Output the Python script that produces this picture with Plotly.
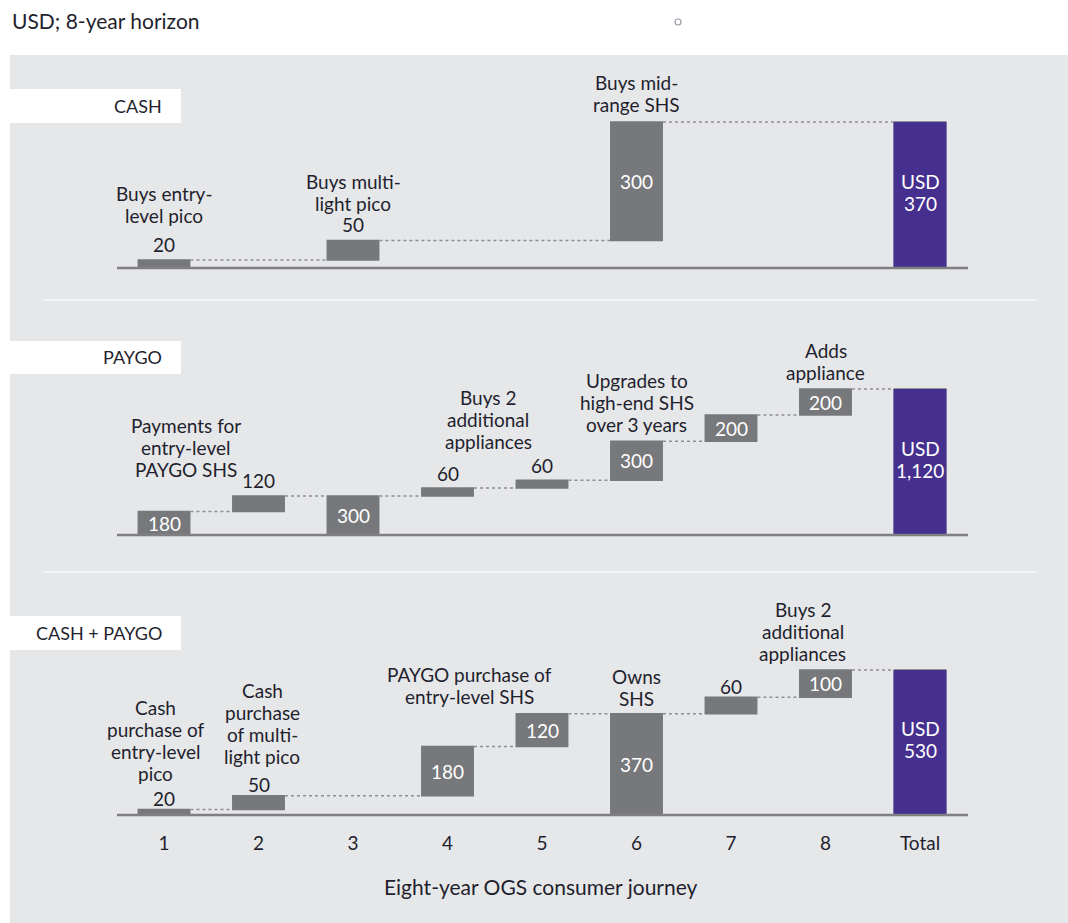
import plotly.graph_objects as go

W, H = 1068, 923
FONT = "Lato"
GRAY = "#77787b"
PURPLE = "#46308f"
TXT = "#1f1f2e"
FS = 19
LH = 22  # line spacing px

# ---------------- data ----------------
positions = [1, 2, 3, 4, 5, 6, 7, 8, 9]
tick_labels = ["1", "2", "3", "4", "5", "6", "7", "8", "Total"]

cash_x = [1, 3, 6, 9]
cash_values = [20, 50, 300, 370]
cash_measure = ["relative", "relative", "relative", "total"]
cash_labels = ["Buys entry-<br>level pico", "Buys multi-<br>light pico", "Buys mid-<br>range SHS", ""]

paygo_x = [1, 2, 3, 4, 5, 6, 7, 8, 9]
paygo_values = [180, 120, 300, 60, 60, 300, 200, 200, 1120]
paygo_measure = ["relative", "relative", "total", "relative", "relative",
                 "relative", "relative", "relative", "total"]
paygo_labels = ["Payments for<br>entry-level<br>PAYGO SHS", "", "",
                "Buys 2<br>additional<br>appliances", "",
                "Upgrades to<br>high-end SHS<br>over 3 years", "",
                "Adds<br>appliance", ""]

mix_x = [1, 2, 4, 5, 6, 7, 8, 9]
mix_values = [20, 50, 180, 120, 370, 60, 100, 530]
mix_measure = ["relative", "relative", "relative", "relative", "total",
               "relative", "relative", "total"]
mix_labels = ["Cash<br>purchase of<br>entry-level<br>pico",
              "Cash<br>purchase<br>of multi-<br>light pico",
              "PAYGO purchase of<br>entry-level SHS", "",
              "Owns<br>SHS", "", "Buys 2<br>additional<br>appliances", ""]

panel_titles = ["CASH", "PAYGO", "CASH + PAYGO"]

# ---------------- layout geometry (pixels) ----------------
px_x1, px_x9 = 164, 920
sx = (px_x9 - px_x1) / 8.0
x_range = [1 - px_x1 / sx, 1 + (W - px_x1) / sx]

# description placement overrides: (x offset in categories, px from bar top to last line centre)
desc_place = {
    (0, 1): (0, 45),
    (0, 3): (0, 37),
    (0, 6): (0, 17),
    (1, 1): (0.23, 42),
    (1, 4): (0.43, 47),
    (1, 6): (0, 17),
    (1, 8): (0, 17),
    (2, 1): (-0.09, 36),
    (2, 2): (0.04, 39),
    (2, 4): (0.23, 50),
    (2, 6): (0, 15),
    (2, 8): (-0.24, 17),
}

panels = [
    dict(T=60, B=295, Y0=268, top=122, x=cash_x, v=cash_values, m=cash_measure, lab=cash_labels,
         box=(89, 123), voff=16),
    dict(T=330, B=565, Y0=535, top=389, x=paygo_x, v=paygo_values, m=paygo_measure, lab=paygo_labels,
         box=(341, 374), voff=15),
    dict(T=600, B=830, Y0=815, top=670, x=mix_x, v=mix_values, m=mix_measure, lab=mix_labels,
         box=(616, 650), voff=11),
]


def py(p):
    return 1 - p / H


def pxx(p):
    return p / W


fig = go.Figure()
shapes = []
annotations = []


def add_lines(lines, x, y, xref, yref, base_shift, color, size=FS, center=False):
    """lines listed top->bottom; base_shift = px of bottom line centre above y (or block centre if center)."""
    n = len(lines)
    for k, line in enumerate(lines):
        idx_from_bottom = n - 1 - k
        if center:
            shift = base_shift + ((n - 1) / 2 - k) * LH
        else:
            shift = base_shift + idx_from_bottom * LH
        annotations.append(dict(x=x, y=y, xref=xref, yref=yref, text=line, showarrow=False,
                                xanchor="center", yanchor="middle", yshift=shift,
                                font=dict(family=FONT, size=size, color=color)))


# gray background
shapes.append(dict(type="rect", xref="paper", yref="paper", x0=pxx(10), x1=1, y0=0, y1=py(55),
                   fillcolor="#e6e7e9", line=dict(width=0), layer="below"))
for yy in (300, 572):
    shapes.append(dict(type="line", xref="paper", yref="paper", x0=pxx(43), x1=pxx(1037),
                       y0=py(yy), y1=py(yy), line=dict(color="#f3f4f6", width=2), layer="below"))
shapes.append(dict(type="circle", xref="paper", yref="paper", x0=pxx(675), x1=pxx(681),
                   y0=py(25), y1=py(19), line=dict(color="#9a9aa8", width=1.2)))

for i, p in enumerate(panels):
    k = i + 1
    yname = "y" if k == 1 else f"y{k}"
    xname = "x" if k == 1 else f"x{k}"
    total = p["v"][-1]
    s = (p["Y0"] - p["top"]) / total
    yr = [-(p["B"] - p["Y0"]) / s, (p["Y0"] - p["T"]) / s]

    cum = 0
    bases, tops = [], []
    for v, m in zip(p["v"], p["m"]):
        if m == "total":
            bases.append(0)
            tops.append(v)
            cum = v
        else:
            bases.append(cum)
            cum += v
            tops.append(cum)

    fig.add_trace(go.Waterfall(
        x=p["x"], y=p["v"], measure=p["m"], base=0,
        xaxis=xname, yaxis=yname,
        width=[0.56] * len(p["x"]),
        increasing=dict(marker=dict(color=GRAY)),
        totals=dict(marker=dict(color=GRAY)),
        connector=dict(mode="between", line=dict(color="#8e8f93", width=1.5, dash="dot")),
        textposition="none",
        hoverinfo="skip", showlegend=False,
    ))
    fig.add_trace(go.Bar(
        x=[9], y=[total], base=0, width=0.56, xaxis=xname, yaxis=yname,
        marker=dict(color=PURPLE, line=dict(width=0)), hoverinfo="skip", showlegend=False,
    ))

    for xv, v, b, t, lab in zip(p["x"], p["v"], bases, tops, p["lab"]):
        hpx = (t - b) * s
        if xv == 9:
            add_lines(["USD", f"{v:,}"], xv, (b + t) / 2, xname, yname, 3, "white", center=True)
            continue
        if hpx >= 22:
            add_lines([str(v)], xv, (b + t) / 2, xname, yname, 0, "white")
        else:
            add_lines([str(v)], xv, t, xname, yname, p["voff"], TXT)
        if lab:
            dx, off = desc_place.get((i, xv), (0, 40))
            add_lines(lab.split("<br>"), xv + dx, t, xname, yname, off, TXT)

    shapes.append(dict(type="line", xref="paper", yref=yname, x0=pxx(117), x1=pxx(968),
                       y0=0, y1=0, line=dict(color="#808083", width=2.5)))

    b0, b1 = p["box"]
    shapes.append(dict(type="rect", xref="paper", yref="paper", x0=pxx(10), x1=pxx(181),
                       y0=py(b1), y1=py(b0), fillcolor="white", line=dict(width=0)))
    annotations.append(dict(x=pxx(164), y=py((b0 + b1) / 2), xref="paper", yref="paper",
                            text=panel_titles[i], showarrow=False, xanchor="right", yanchor="middle",
                            font=dict(family=FONT, size=18, color=TXT)))

    dom = [py(p["B"]), py(p["T"])]
    fig.layout[f"yaxis{'' if k == 1 else k}"] = dict(domain=dom, range=yr, visible=False,
                                                     anchor=xname)
    fig.layout[f"xaxis{'' if k == 1 else k}"] = dict(
        domain=[0, 1], range=x_range, anchor=yname,
        tickmode="array", tickvals=positions, ticktext=tick_labels,
        showticklabels=(k == 3), showgrid=False, zeroline=False, showline=False,
        ticks="", tickfont=dict(family=FONT, size=19, color=TXT),
    )

annotations.append(dict(x=pxx(10), y=py(20), xref="paper", yref="paper", xanchor="left",
                        yanchor="middle", text="USD; 8-year horizon", showarrow=False,
                        font=dict(family=FONT, size=21, color=TXT)))
annotations.append(dict(x=pxx(541), y=py(886), xref="paper", yref="paper", xanchor="center",
                        yanchor="middle", text="Eight-year OGS consumer journey", showarrow=False,
                        font=dict(family=FONT, size=21, color=TXT)))

fig.update_layout(
    width=W, height=H, margin=dict(l=0, r=0, t=0, b=0),
    paper_bgcolor="white", plot_bgcolor="rgba(0,0,0,0)",
    shapes=shapes, annotations=annotations, barmode="overlay",
)

fig.write_html("out.html")
